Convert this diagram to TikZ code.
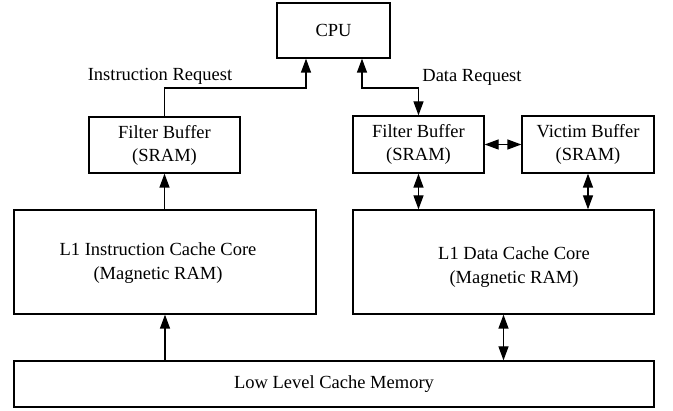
\documentclass[tikz,border=0pt]{standalone}
\usepackage{fontspec}
\setmainfont{Liberation Serif}
\usetikzlibrary{arrows.meta}
\begin{document}
\begin{tikzpicture}[x=1pt,y=-1pt,
  box/.style={draw,line width=1.3pt,inner sep=0pt,align=center,font=\fontsize{18.5}{23}\selectfont},
  lbl/.style={inner sep=0pt,align=center,font=\fontsize{18.5}{23.5}\selectfont},
  conn/.style={line width=1.3pt,arrows={-Triangle[length=14pt,width=10pt]}},
  dconn/.style={line width=1.3pt,arrows={Triangle[length=14pt,width=10pt]-Triangle[length=14pt,width=10pt]}}]
\useasboundingbox (0,0) rectangle (673,411);
\node[box,minimum width=113pt,minimum height=55pt] (cpu) at (333.5,30.5) {CPU};
\node[box,minimum width=151pt,minimum height=56pt] (lfb) at (164.5,145) {Filter Buffer\\(SRAM)};
\node[box,minimum width=131pt,minimum height=57pt] (rfb) at (418.5,144.5) {Filter Buffer\\(SRAM)};
\node[box,minimum width=132pt,minimum height=57pt] (vb) at (588,144.5) {Victim Buffer\\(SRAM)};
\node[box,minimum width=302pt,minimum height=104pt] (l1i) at (165,262) {};
\node[lbl] (l1itext) at (158,263) {L1 Instruction Cache Core\\(Magnetic RAM)};
\node[box,minimum width=301pt,minimum height=104pt] (l1d) at (503.5,262) {};
\node[lbl] (l1dtext) at (514,267) {L1 Data Cache Core\\(Magnetic RAM)};
\node[box,minimum width=640pt,minimum height=46pt] (llc) at (334,384) {Low Level Cache Memory};
\node[lbl] (ireq) at (160,76) {Instruction Request};
\node[lbl] (dreq) at (472,77) {Data Request};
\coordinate (ia) at (306,88);
\coordinate (da) at (362,88);
\draw[conn] (lfb.north) |- (ia) -- (ia |- cpu.south);
\draw[dconn] (da |- cpu.south) -- (da) -| (rfb.north);
\draw[conn] (l1i.north -| lfb.south) -- (lfb.south);
\draw[dconn] (rfb.east) -- (vb.west);
\draw[dconn] (rfb.south) -- (rfb.south |- l1d.north);
\draw[dconn] (vb.south) -- (vb.south |- l1d.north);
\draw[conn] (llc.north -| l1i.south) -- (l1i.south);
\draw[dconn] (l1d.south) -- (l1d.south |- llc.north);
\end{tikzpicture}
\end{document}
